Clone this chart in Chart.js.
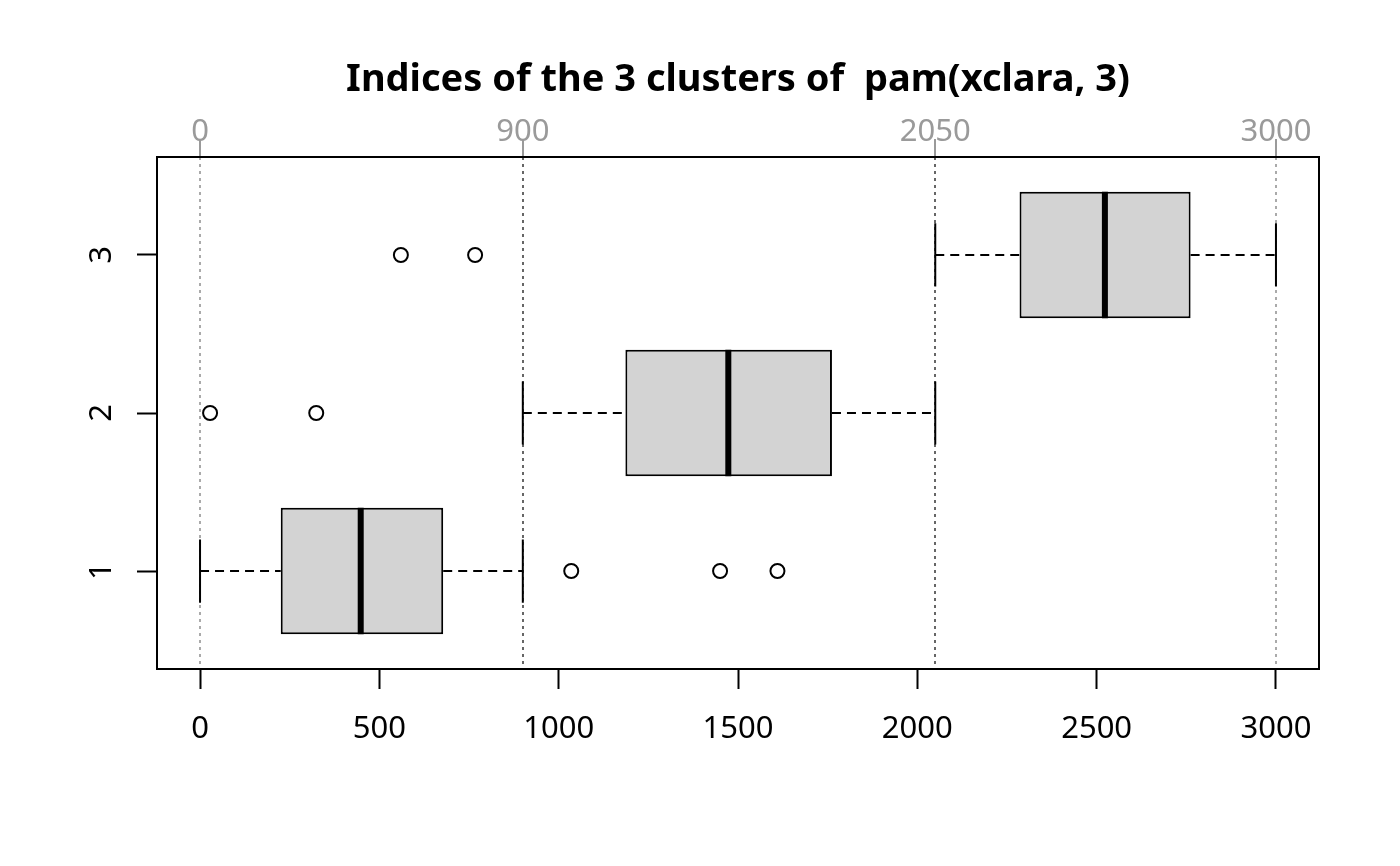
<!DOCTYPE html>
<html>
<head>
<meta charset="utf-8">
<title>Indices of the 3 clusters of pam(xclara, 3)</title>
<script src="https://cdn.jsdelivr.net/npm/chart.js@4.4.1/dist/chart.umd.min.js"></script>
<style>
  html, body { margin: 0; padding: 0; background: #fff; }
  canvas { display: block; }
</style>
</head>
<body>
<canvas id="chart" width="1400" height="866"></canvas>
<script>
// cluster data
const clusters = [1, 2, 3];
const q1 = [225, 1186, 2285];
const medians = [448, 1473, 2523];
const q3 = [678, 1762, 2762];
const whiskerLow = [0, 900, 2050];
const whiskerHigh = [900, 2050, 3000];
const outlierX = [1035, 1450, 1610, 28, 324, 560, 767];
const outlierY = [1, 1, 1, 2, 2, 3, 3];
const bottomTicks = [0, 500, 1000, 1500, 2000, 2500, 3000];
const splitTicks = [0, 900, 2050, 3000];
const title = 'Indices of the 3 clusters of  pam(xclara, 3)';

const FONT = "'Noto Sans', 'DejaVu Sans', sans-serif";
const BOX_HALF = 0.4;
const STAPLE_HALF = 0.2;
const GAP = { x: null, y: null };
const TITLE_SIZE = 38;
const TITLE_TOP = 57;

// dashed whisker segments, each followed by a gap
const whiskerData = [];
clusters.forEach((c, i) => {
  whiskerData.push({ x: whiskerLow[i], y: c }, { x: q1[i], y: c }, GAP);
  whiskerData.push({ x: q3[i], y: c }, { x: whiskerHigh[i], y: c }, GAP);
});

const stapleData = [];
clusters.forEach((c, i) => {
  [whiskerLow[i], whiskerHigh[i]].forEach(v => {
    stapleData.push({ x: v, y: c - STAPLE_HALF }, { x: v, y: c + STAPLE_HALF }, GAP);
  });
});

const medianData = [];
clusters.forEach((c, i) => {
  medianData.push({ x: medians[i], y: c - BOX_HALF }, { x: medians[i], y: c + BOX_HALF }, GAP);
});

const frame = {
  id: 'frame',
  afterDraw(chart) {
    const { ctx, chartArea: a } = chart;
    ctx.save();
    ctx.strokeStyle = '#000';
    ctx.lineWidth = 2;
    ctx.strokeRect(a.left, a.top, a.right - a.left, a.bottom - a.top);
    ctx.restore();
  }
};

new Chart(document.getElementById('chart'), {
  data: {
    datasets: [
      {
        type: 'bar',
        indexAxis: 'y',
        data: clusters.map((c, i) => ({ y: c, x: [q1[i], q3[i]] })),
        backgroundColor: '#d3d3d3',
        borderColor: '#000',
        borderWidth: 2,
        borderSkipped: false,
        barPercentage: 0.8,
        categoryPercentage: 1,
        order: 3
      },
      {
        type: 'line',
        data: whiskerData,
        borderColor: '#000',
        borderWidth: 2,
        borderDash: [9, 6],
        pointRadius: 0,
        spanGaps: false,
        order: 4
      },
      {
        type: 'line',
        data: stapleData,
        borderColor: '#000',
        borderWidth: 2,
        pointRadius: 0,
        spanGaps: false,
        order: 2
      },
      {
        type: 'line',
        data: medianData,
        borderColor: '#000',
        borderWidth: 6,
        borderCapStyle: 'butt',
        pointRadius: 0,
        spanGaps: false,
        order: 1
      },
      {
        type: 'scatter',
        data: outlierX.map((x, i) => ({ x: x, y: outlierY[i] })),
        pointStyle: 'circle',
        pointRadius: 7,
        borderColor: '#000',
        borderWidth: 2,
        backgroundColor: 'rgba(0,0,0,0)',
        order: 0
      }
    ]
  },
  options: {
    responsive: false,
    animation: false,
    devicePixelRatio: 1,
    layout: { padding: { left: 0, right: 81, top: 0, bottom: 0 } },
    plugins: {
      legend: { display: false },
      tooltip: { enabled: false },
      title: {
        display: true,
        text: title,
        fullSize: false,
        color: '#000',
        font: { family: FONT, size: TITLE_SIZE, weight: 'bold', lineHeight: 1.2 },
        padding: { top: TITLE_TOP, bottom: 0 }
      }
    },
    scales: {
      x: {
        type: 'linear',
        position: 'bottom',
        min: -120,
        max: 3120,
        offset: false,
        afterBuildTicks: s => { s.ticks = bottomTicks.map(v => ({ value: v })); },
        afterFit: s => { s.height = 197; },
        ticks: {
          color: '#000',
          padding: 22,
          maxRotation: 0,
          callback: v => String(v),
          font: { family: FONT, size: 31 }
        },
        grid: {
          offset: false,
          drawOnChartArea: false,
          drawTicks: true,
          tickLength: 20,
          tickWidth: 2,
          tickColor: '#000'
        },
        border: { display: false }
      },
      x2: {
        type: 'linear',
        axis: 'x',
        position: 'top',
        min: -120,
        max: 3120,
        offset: false,
        afterBuildTicks: s => { s.ticks = splitTicks.map(v => ({ value: v })); },
        afterFit: s => { s.height = 157 - TITLE_TOP - TITLE_SIZE * 1.2; },
        ticks: {
          color: '#9a9a9a',
          padding: -12,
          maxRotation: 0,
          callback: v => String(v),
          font: { family: FONT, size: 31 }
        },
        grid: {
          offset: false,
          drawOnChartArea: true,
          drawTicks: true,
          tickLength: 18,
          tickWidth: 2,
          tickColor: '#9a9a9a',
          lineWidth: 2,
          color: ctx => (ctx.tick && (ctx.tick.value === 900 || ctx.tick.value === 2050)) ? '#666666' : '#aaaaaa'
        },
        border: { display: false, dash: [3, 4] }
      },
      y: {
        type: 'linear',
        position: 'left',
        min: 0.38,
        max: 3.62,
        offset: false,
        afterBuildTicks: s => { s.ticks = clusters.map(v => ({ value: v })); },
        afterFit: s => { s.width = 157; },
        ticks: {
          color: '#000',
          padding: 26,
          minRotation: 90,
          maxRotation: 90,
          crossAlign: 'center',
          callback: v => String(v),
          font: { family: FONT, size: 31 }
        },
        grid: {
          offset: false,
          drawOnChartArea: false,
          drawTicks: true,
          tickLength: 20,
          tickWidth: 2,
          tickColor: '#000'
        },
        border: { display: false }
      }
    }
  },
  plugins: [frame]
});
</script>
</body>
</html>
